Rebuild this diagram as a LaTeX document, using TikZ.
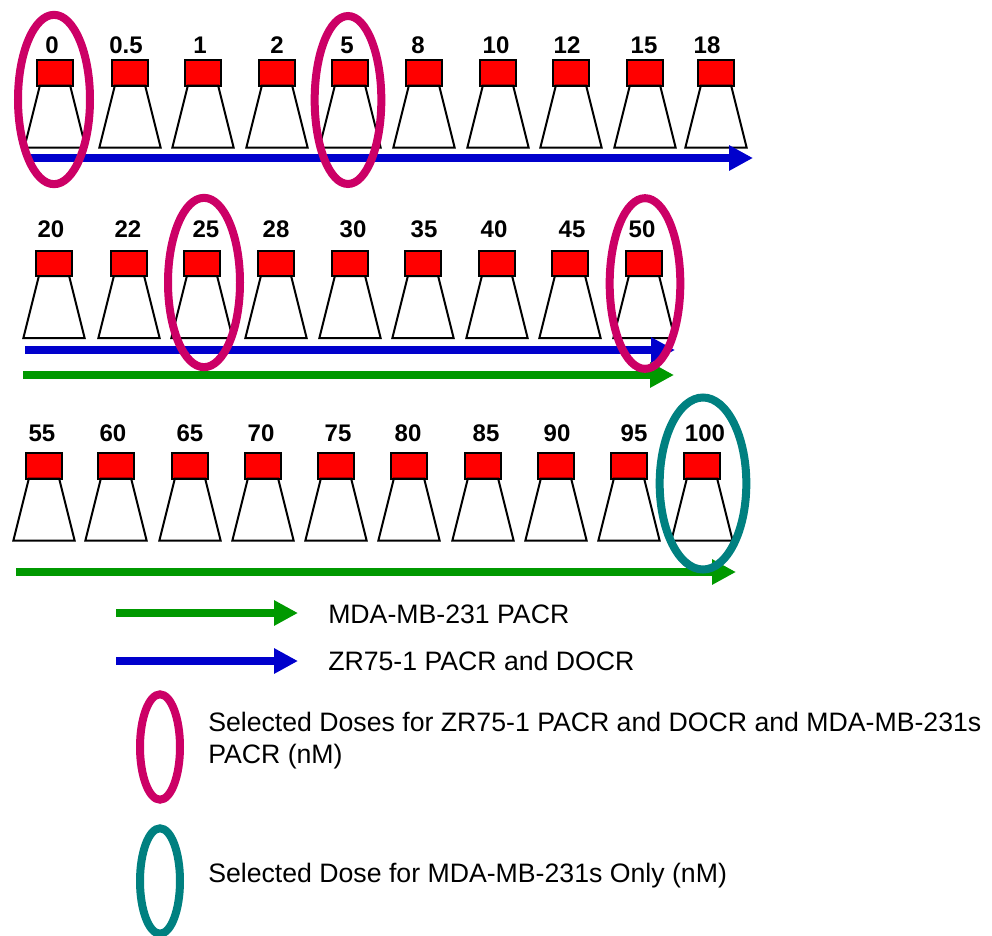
\documentclass[tikz,border=0pt]{standalone}
\usepackage{fontspec}
\setmainfont{Liberation Sans}
\usepackage{xcolor}
\usetikzlibrary{positioning,arrows.meta,shapes.geometric}
\definecolor{capred}{RGB}{255,0,0}
\definecolor{doseblue}{RGB}{0,0,204}
\definecolor{dosegreen}{RGB}{0,153,0}
\definecolor{selmagenta}{RGB}{204,0,102}
\definecolor{selteal}{RGB}{0,128,128}
\tikzset{
  cap-node/.style={draw=black, line width=1.5pt, fill=capred, minimum width=27.5pt,
    minimum height=19pt, inner sep=0pt, outer sep=0pt},
  flask-node/.style={draw=black, line width=1.5pt, trapezium, trapezium stretches=true,
    trapezium left angle=63, trapezium right angle=63, minimum width=46pt,
    minimum height=46.5pt, inner sep=2pt, outer sep=0pt},
  dose-label/.style={font=\fontsize{18}{20}\selectfont\bfseries, inner sep=0pt},
  legend-text/.style={font=\fontsize{20}{24}\selectfont, align=left, anchor=west, inner sep=0pt},
  dose-arrow/.style={-{Triangle[length=18pt, width=18pt]}, line width=6pt},
  select-ring/.style={ellipse, draw=#1, line width=6pt, inner sep=0pt, outer sep=0pt}
}
\begin{document}
\begin{tikzpicture}[x=0.75pt, y=-0.75pt]
\useasboundingbox (0,0) rectangle (992,935);

% First row of flasks
\foreach \i/\capx/\labx/\dose in {1/55/52/0, 2/130/126/0.5, 3/203/200/1, 4/277/277/2, 5/350/347/5,
    6/424/418/8, 7/498/496/10, 8/571/567/12, 9/645/644/15, 10/716/707/18} {
  \node[cap-node] (capa\i) at (\capx,73) {};
  \node[flask-node, below=0pt of capa\i] (flaska\i) {};
  \node[dose-label] (laba\i) at (\labx,45) {\dose};
}

% Second row of flasks
\foreach \i/\capx/\labx/\dose in {1/54/51/20, 2/129/128/22, 3/202/206/25, 4/276/276/28, 5/350/353/30,
    6/423/424/35, 7/497/494/40, 8/570/572/45, 9/644/642/50} {
  \node[cap-node] (capb\i) at (\capx,263.5) {};
  \node[flask-node, below=0pt of capb\i] (flaskb\i) {};
  \node[dose-label] (labb\i) at (\labx,229) {\dose};
}

% Third row of flasks
\foreach \i/\capx/\labx/\dose in {1/44/42/55, 2/116/113/60, 3/190/190/65, 4/263/261/70, 5/336/338/75,
    6/409/408/80, 7/483/486/85, 8/556/557/90, 9/629/634/95, 10/702/705/100} {
  \node[cap-node] (capc\i) at (\capx,466) {};
  \node[flask-node, below=0pt of capc\i] (flaskc\i) {};
  \node[dose-label] (labc\i) at (\labx,433) {\dose};
}

% Arrows under each row
\coordinate (a1) at (28,158);
\coordinate (a2) at (753,158);
\coordinate (b1) at (25,350);
\coordinate (b2) at (675,350);
\coordinate (c1) at (23,375);
\coordinate (c2) at (674,375);
\coordinate (d1) at (16,572);
\coordinate (d2) at (736,572);
\draw[dose-arrow, doseblue] (a1) -- (a2);
\draw[dose-arrow, doseblue] (b1) -- (b2);
\draw[dose-arrow, dosegreen] (c1) -- (c2);
\draw[dose-arrow, dosegreen] (d1) -- (d2);

% Selected doses
\node[select-ring=selmagenta, minimum width=54pt, minimum height=127pt] (sel0) at (54,99.5) {};
\node[select-ring=selmagenta, minimum width=50pt, minimum height=126pt] (sel5) at (348,100) {};
\node[select-ring=selmagenta, minimum width=54pt, minimum height=127pt] (sel25) at (204,282.5) {};
\node[select-ring=selmagenta, minimum width=53pt, minimum height=128pt] (sel50) at (645,283.5) {};
\node[select-ring=selteal, minimum width=65pt, minimum height=129pt] (sel100) at (703,483.5) {};

% Legend
\coordinate (lg1) at (116,613);
\coordinate (lg2) at (298,613);
\coordinate (lb1) at (116,661);
\coordinate (lb2) at (298,661);
\draw[dose-arrow, dosegreen] (lg1) -- (lg2);
\draw[dose-arrow, doseblue] (lb1) -- (lb2);
\node[legend-text] (txtgreen) at (328,614) {MDA-MB-231 PACR};
\node[legend-text] (txtblue) at (328,661) {ZR75-1 PACR and DOCR};
\node[select-ring=selmagenta, minimum width=30pt, minimum height=79pt] (keymag) at (160,747) {};
\node[select-ring=selteal, minimum width=30pt, minimum height=79pt] (keyteal) at (160,881) {};
\node[legend-text] (txtmag) at (208,741) {Selected Doses for ZR75-1 PACR and DOCR and MDA-MB-231s\\PACR (nM)};
\node[legend-text] (txtteal) at (208,876) {Selected Dose for MDA-MB-231s Only (nM)};
\end{tikzpicture}
\end{document}
